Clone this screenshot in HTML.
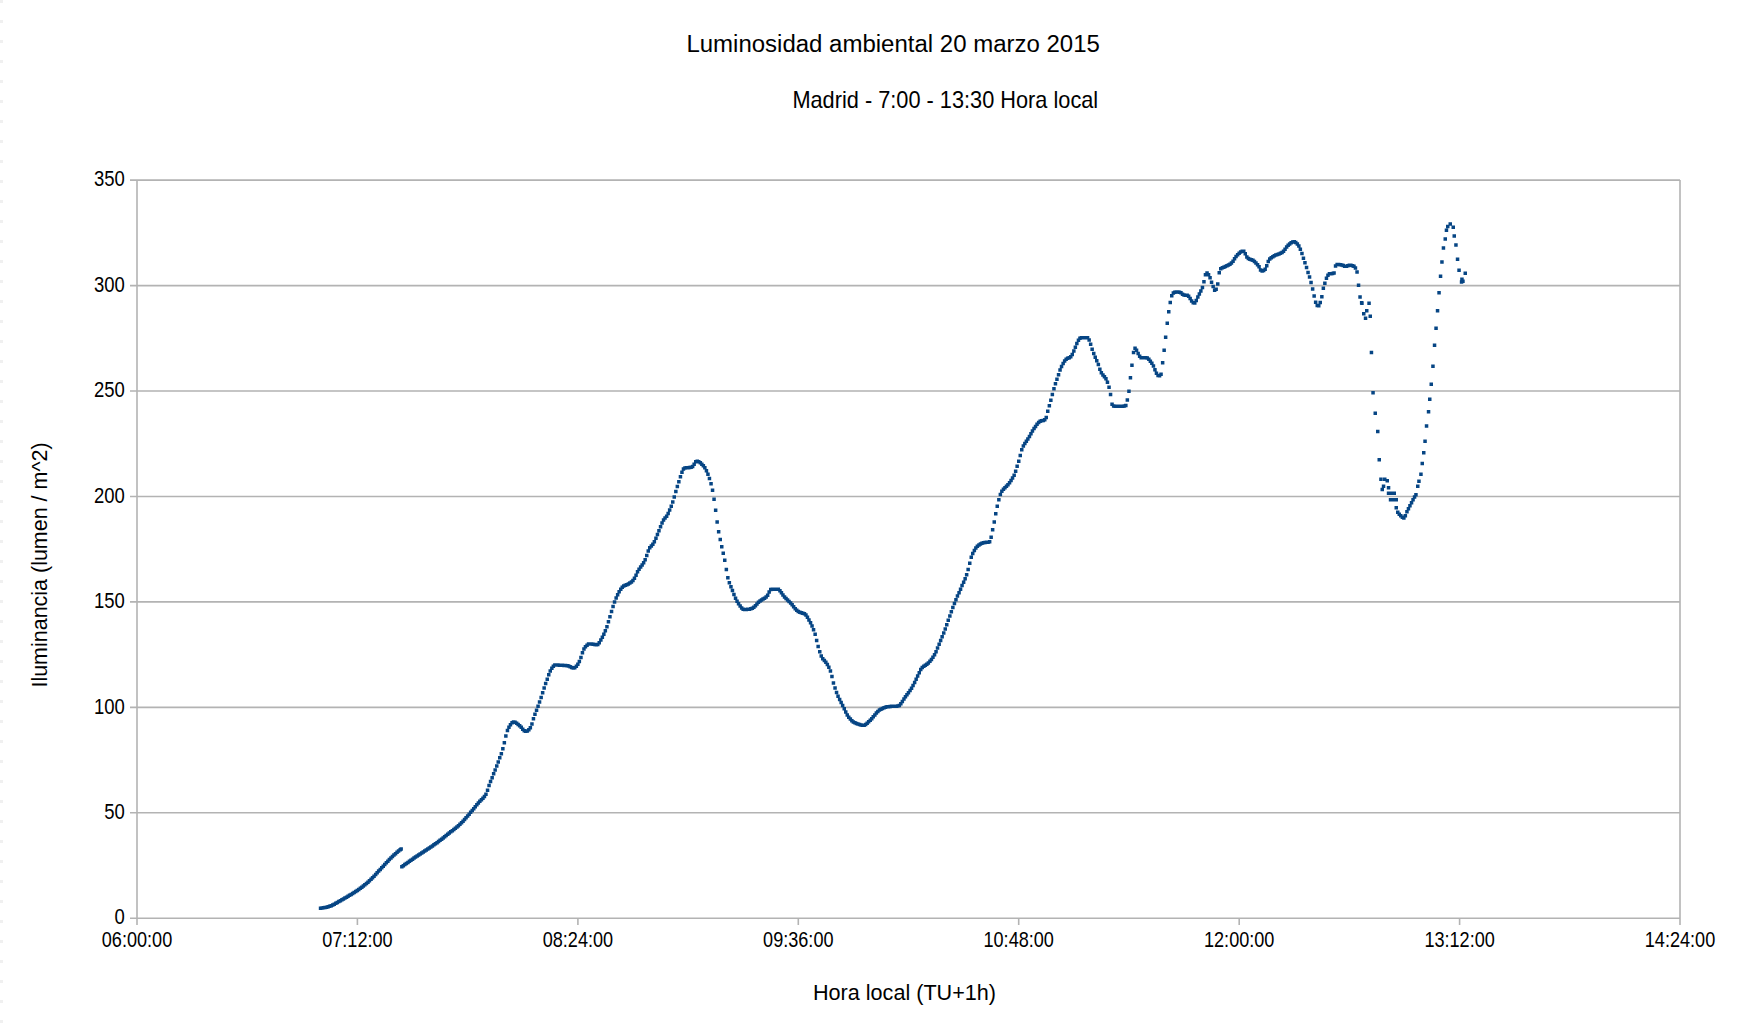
<!DOCTYPE html>
<html><head><meta charset="utf-8">
<style>
html,body{margin:0;padding:0;background:#fff;}
body{width:1748px;height:1024px;overflow:hidden;position:relative;}
svg{position:absolute;left:0;top:0;}
text{font-family:"Liberation Sans",sans-serif;fill:#000;}
</style></head><body>
<svg width="1748" height="1024" viewBox="0 0 1748 1024">
<path d="M1.5 0V1024" stroke="#f0f0f0" stroke-width="3" stroke-dasharray="3 17"/>
<g stroke="#b3b3b3" stroke-width="1.6" fill="none">
<path d="M130 918.3H1680M130 812.8H1680M130 707.4H1680M130 601.9H1680M130 496.5H1680M130 391.0H1680M130 285.6H1680M130 180.1H1680"/>
<path d="M137 180.1V925M1680 180.1V925M357.4 918.3V925M577.9 918.3V925M798.3 918.3V925M1018.7 918.3V925M1239.2 918.3V925M1459.6 918.3V925"/>
</g>
<text font-size="24.4" transform="translate(686.4 52.1) scale(0.984 1)">Luminosidad ambiental 20 marzo 2015</text>
<text font-size="23" transform="translate(792.4 107.6) scale(0.946 1)">Madrid - 7:00 - 13:30 Hora local</text>
<text font-size="22" transform="translate(813 1000.0) scale(0.982 1)">Hora local (TU+1h)</text>
<text font-size="22.5" transform="translate(47.2 442.4) rotate(-90) scale(0.955 1)" text-anchor="end">Iluminancia (lumen / m^2)</text>
<g font-size="21.4" text-anchor="end">
<text transform="translate(124.8 924.4) scale(0.865 1)">0</text>
<text transform="translate(124.8 818.9) scale(0.865 1)">50</text>
<text transform="translate(124.8 713.5) scale(0.865 1)">100</text>
<text transform="translate(124.8 608.0) scale(0.865 1)">150</text>
<text transform="translate(124.8 502.6) scale(0.865 1)">200</text>
<text transform="translate(124.8 397.1) scale(0.865 1)">250</text>
<text transform="translate(124.8 291.7) scale(0.865 1)">300</text>
<text transform="translate(124.8 186.2) scale(0.865 1)">350</text>
</g><g font-size="21.4" text-anchor="middle">
<text transform="translate(137.0 947.2) scale(0.846 1)">06:00:00</text>
<text transform="translate(357.4 947.2) scale(0.846 1)">07:12:00</text>
<text transform="translate(577.9 947.2) scale(0.846 1)">08:24:00</text>
<text transform="translate(798.3 947.2) scale(0.846 1)">09:36:00</text>
<text transform="translate(1018.7 947.2) scale(0.846 1)">10:48:00</text>
<text transform="translate(1239.2 947.2) scale(0.846 1)">12:00:00</text>
<text transform="translate(1459.6 947.2) scale(0.846 1)">13:12:00</text>
<text transform="translate(1680.0 947.2) scale(0.846 1)">14:24:00</text>
</g>
<path fill="#064584" d="M318.8 906.4h3.5v3.5h-3.5zM320.3 906.2h3.5v3.5h-3.5zM321.8 906.1h3.5v3.5h-3.5zM323.3 905.8h3.5v3.5h-3.5zM324.9 905.5h3.5v3.5h-3.5zM326.4 905.1h3.5v3.5h-3.5zM327.9 904.6h3.5v3.5h-3.5zM329.5 904.0h3.5v3.5h-3.5zM331.0 903.3h3.5v3.5h-3.5zM332.5 902.4h3.5v3.5h-3.5zM334.1 901.6h3.5v3.5h-3.5zM335.6 900.7h3.5v3.5h-3.5zM337.1 899.8h3.5v3.5h-3.5zM338.7 898.9h3.5v3.5h-3.5zM340.2 898.0h3.5v3.5h-3.5zM341.7 897.2h3.5v3.5h-3.5zM343.2 896.3h3.5v3.5h-3.5zM344.8 895.4h3.5v3.5h-3.5zM346.3 894.5h3.5v3.5h-3.5zM347.8 893.6h3.5v3.5h-3.5zM349.4 892.7h3.5v3.5h-3.5zM350.9 891.7h3.5v3.5h-3.5zM352.4 890.8h3.5v3.5h-3.5zM354.0 889.8h3.5v3.5h-3.5zM355.5 888.7h3.5v3.5h-3.5zM357.0 887.7h3.5v3.5h-3.5zM358.6 886.6h3.5v3.5h-3.5zM360.1 885.4h3.5v3.5h-3.5zM361.6 884.3h3.5v3.5h-3.5zM363.1 883.0h3.5v3.5h-3.5zM364.7 881.8h3.5v3.5h-3.5zM366.2 880.4h3.5v3.5h-3.5zM367.7 879.1h3.5v3.5h-3.5zM369.3 877.6h3.5v3.5h-3.5zM370.8 876.0h3.5v3.5h-3.5zM372.3 874.4h3.5v3.5h-3.5zM373.9 872.7h3.5v3.5h-3.5zM375.4 871.0h3.5v3.5h-3.5zM376.9 869.3h3.5v3.5h-3.5zM378.5 867.7h3.5v3.5h-3.5zM380.0 866.0h3.5v3.5h-3.5zM381.5 864.4h3.5v3.5h-3.5zM383.0 862.7h3.5v3.5h-3.5zM384.6 861.1h3.5v3.5h-3.5zM386.1 859.4h3.5v3.5h-3.5zM387.6 857.8h3.5v3.5h-3.5zM389.2 856.2h3.5v3.5h-3.5zM390.7 854.7h3.5v3.5h-3.5zM392.2 853.2h3.5v3.5h-3.5zM393.8 851.9h3.5v3.5h-3.5zM395.3 850.6h3.5v3.5h-3.5zM396.8 849.3h3.5v3.5h-3.5zM398.4 848.1h3.5v3.5h-3.5zM399.4 847.3h3.5v3.5h-3.5zM400.1 865.0h3.5v3.5h-3.5zM401.6 863.9h3.5v3.5h-3.5zM403.1 862.8h3.5v3.5h-3.5zM404.6 861.7h3.5v3.5h-3.5zM406.2 860.7h3.5v3.5h-3.5zM407.7 859.6h3.5v3.5h-3.5zM409.2 858.5h3.5v3.5h-3.5zM410.8 857.4h3.5v3.5h-3.5zM412.3 856.3h3.5v3.5h-3.5zM413.8 855.3h3.5v3.5h-3.5zM415.4 854.2h3.5v3.5h-3.5zM416.9 853.2h3.5v3.5h-3.5zM418.4 852.2h3.5v3.5h-3.5zM420.0 851.2h3.5v3.5h-3.5zM421.5 850.2h3.5v3.5h-3.5zM423.0 849.2h3.5v3.5h-3.5zM424.5 848.2h3.5v3.5h-3.5zM426.1 847.2h3.5v3.5h-3.5zM427.6 846.2h3.5v3.5h-3.5zM429.1 845.2h3.5v3.5h-3.5zM430.7 844.2h3.5v3.5h-3.5zM432.2 843.1h3.5v3.5h-3.5zM433.7 842.0h3.5v3.5h-3.5zM435.3 840.9h3.5v3.5h-3.5zM436.8 839.8h3.5v3.5h-3.5zM438.3 838.6h3.5v3.5h-3.5zM439.9 837.4h3.5v3.5h-3.5zM441.4 836.2h3.5v3.5h-3.5zM442.9 834.9h3.5v3.5h-3.5zM444.4 833.7h3.5v3.5h-3.5zM446.0 832.5h3.5v3.5h-3.5zM447.5 831.2h3.5v3.5h-3.5zM449.0 830.0h3.5v3.5h-3.5zM450.6 828.9h3.5v3.5h-3.5zM452.1 827.7h3.5v3.5h-3.5zM453.6 826.6h3.5v3.5h-3.5zM455.2 825.3h3.5v3.5h-3.5zM456.7 824.0h3.5v3.5h-3.5zM458.2 822.6h3.5v3.5h-3.5zM459.8 821.1h3.5v3.5h-3.5zM461.3 819.4h3.5v3.5h-3.5zM462.8 817.7h3.5v3.5h-3.5zM464.3 815.9h3.5v3.5h-3.5zM465.9 814.2h3.5v3.5h-3.5zM467.4 812.4h3.5v3.5h-3.5zM468.9 810.6h3.5v3.5h-3.5zM470.5 808.7h3.5v3.5h-3.5zM472.0 806.9h3.5v3.5h-3.5zM473.5 805.0h3.5v3.5h-3.5zM475.1 803.1h3.5v3.5h-3.5zM476.6 801.3h3.5v3.5h-3.5zM478.1 799.6h3.5v3.5h-3.5zM479.7 798.1h3.5v3.5h-3.5zM481.2 796.6h3.5v3.5h-3.5zM482.7 794.8h3.5v3.5h-3.5zM484.2 792.4h3.5v3.5h-3.5zM485.8 788.4h3.5v3.5h-3.5zM487.3 783.8h3.5v3.5h-3.5zM488.8 779.7h3.5v3.5h-3.5zM490.4 775.9h3.5v3.5h-3.5zM491.9 772.1h3.5v3.5h-3.5zM493.4 768.2h3.5v3.5h-3.5zM495.0 764.2h3.5v3.5h-3.5zM496.5 760.2h3.5v3.5h-3.5zM498.0 756.1h3.5v3.5h-3.5zM499.6 751.9h3.5v3.5h-3.5zM501.1 747.1h3.5v3.5h-3.5zM502.6 740.9h3.5v3.5h-3.5zM504.1 734.2h3.5v3.5h-3.5zM505.7 728.8h3.5v3.5h-3.5zM507.2 725.6h3.5v3.5h-3.5zM508.7 723.0h3.5v3.5h-3.5zM510.3 721.0h3.5v3.5h-3.5zM511.8 720.3h3.5v3.5h-3.5zM513.3 720.6h3.5v3.5h-3.5zM514.9 721.6h3.5v3.5h-3.5zM516.4 722.8h3.5v3.5h-3.5zM517.9 724.0h3.5v3.5h-3.5zM519.5 725.6h3.5v3.5h-3.5zM521.0 727.4h3.5v3.5h-3.5zM522.5 728.9h3.5v3.5h-3.5zM524.0 729.6h3.5v3.5h-3.5zM525.6 729.2h3.5v3.5h-3.5zM527.1 727.9h3.5v3.5h-3.5zM528.6 726.0h3.5v3.5h-3.5zM530.2 722.2h3.5v3.5h-3.5zM531.7 717.1h3.5v3.5h-3.5zM533.2 712.5h3.5v3.5h-3.5zM534.8 708.4h3.5v3.5h-3.5zM536.3 704.5h3.5v3.5h-3.5zM537.8 700.3h3.5v3.5h-3.5zM539.4 695.7h3.5v3.5h-3.5zM540.9 690.9h3.5v3.5h-3.5zM542.4 686.2h3.5v3.5h-3.5zM543.9 681.7h3.5v3.5h-3.5zM545.5 677.4h3.5v3.5h-3.5zM547.0 673.0h3.5v3.5h-3.5zM548.5 669.2h3.5v3.5h-3.5zM550.1 666.4h3.5v3.5h-3.5zM551.6 664.4h3.5v3.5h-3.5zM553.1 663.3h3.5v3.5h-3.5zM554.7 663.3h3.5v3.5h-3.5zM556.2 663.3h3.5v3.5h-3.5zM557.7 663.4h3.5v3.5h-3.5zM559.3 663.5h3.5v3.5h-3.5zM560.8 663.6h3.5v3.5h-3.5zM562.3 663.7h3.5v3.5h-3.5zM563.8 663.8h3.5v3.5h-3.5zM565.4 664.0h3.5v3.5h-3.5zM566.9 664.3h3.5v3.5h-3.5zM568.4 665.0h3.5v3.5h-3.5zM570.0 665.8h3.5v3.5h-3.5zM571.5 666.2h3.5v3.5h-3.5zM573.0 665.9h3.5v3.5h-3.5zM574.6 664.5h3.5v3.5h-3.5zM576.1 662.4h3.5v3.5h-3.5zM577.6 659.8h3.5v3.5h-3.5zM579.2 655.7h3.5v3.5h-3.5zM580.7 651.1h3.5v3.5h-3.5zM582.2 647.2h3.5v3.5h-3.5zM583.7 645.1h3.5v3.5h-3.5zM585.3 643.4h3.5v3.5h-3.5zM586.8 642.3h3.5v3.5h-3.5zM588.3 642.2h3.5v3.5h-3.5zM589.9 642.3h3.5v3.5h-3.5zM591.4 642.5h3.5v3.5h-3.5zM592.9 642.8h3.5v3.5h-3.5zM594.5 642.9h3.5v3.5h-3.5zM596.0 642.8h3.5v3.5h-3.5zM597.5 641.0h3.5v3.5h-3.5zM599.1 638.2h3.5v3.5h-3.5zM600.6 635.4h3.5v3.5h-3.5zM602.1 632.4h3.5v3.5h-3.5zM603.6 628.9h3.5v3.5h-3.5zM605.2 624.9h3.5v3.5h-3.5zM606.7 620.0h3.5v3.5h-3.5zM608.2 614.9h3.5v3.5h-3.5zM609.8 609.8h3.5v3.5h-3.5zM611.3 604.8h3.5v3.5h-3.5zM612.8 600.3h3.5v3.5h-3.5zM614.4 596.2h3.5v3.5h-3.5zM615.9 592.9h3.5v3.5h-3.5zM617.4 589.9h3.5v3.5h-3.5zM619.0 587.4h3.5v3.5h-3.5zM620.5 585.4h3.5v3.5h-3.5zM622.0 584.3h3.5v3.5h-3.5zM623.5 583.6h3.5v3.5h-3.5zM625.1 583.0h3.5v3.5h-3.5zM626.6 582.2h3.5v3.5h-3.5zM628.1 581.2h3.5v3.5h-3.5zM629.7 580.2h3.5v3.5h-3.5zM631.2 578.8h3.5v3.5h-3.5zM632.7 576.6h3.5v3.5h-3.5zM634.3 573.4h3.5v3.5h-3.5zM635.8 570.1h3.5v3.5h-3.5zM637.3 567.5h3.5v3.5h-3.5zM638.9 565.3h3.5v3.5h-3.5zM640.4 563.3h3.5v3.5h-3.5zM641.9 561.0h3.5v3.5h-3.5zM643.4 558.1h3.5v3.5h-3.5zM645.0 553.7h3.5v3.5h-3.5zM646.5 549.2h3.5v3.5h-3.5zM648.0 546.1h3.5v3.5h-3.5zM649.6 544.3h3.5v3.5h-3.5zM651.1 542.6h3.5v3.5h-3.5zM652.6 540.0h3.5v3.5h-3.5zM654.2 536.6h3.5v3.5h-3.5zM655.7 532.7h3.5v3.5h-3.5zM657.2 529.0h3.5v3.5h-3.5zM658.8 525.1h3.5v3.5h-3.5zM660.3 521.3h3.5v3.5h-3.5zM661.8 518.3h3.5v3.5h-3.5zM663.3 516.3h3.5v3.5h-3.5zM664.9 514.4h3.5v3.5h-3.5zM666.4 511.7h3.5v3.5h-3.5zM667.9 508.3h3.5v3.5h-3.5zM669.5 504.5h3.5v3.5h-3.5zM671.0 500.3h3.5v3.5h-3.5zM672.5 495.2h3.5v3.5h-3.5zM674.1 489.8h3.5v3.5h-3.5zM675.6 484.7h3.5v3.5h-3.5zM677.1 480.0h3.5v3.5h-3.5zM678.7 475.0h3.5v3.5h-3.5zM680.2 470.5h3.5v3.5h-3.5zM681.7 467.3h3.5v3.5h-3.5zM683.2 466.3h3.5v3.5h-3.5zM684.8 466.0h3.5v3.5h-3.5zM686.3 465.9h3.5v3.5h-3.5zM687.8 465.8h3.5v3.5h-3.5zM689.4 465.6h3.5v3.5h-3.5zM690.9 464.7h3.5v3.5h-3.5zM692.4 462.4h3.5v3.5h-3.5zM694.0 460.1h3.5v3.5h-3.5zM695.5 459.4h3.5v3.5h-3.5zM697.0 459.9h3.5v3.5h-3.5zM698.6 460.9h3.5v3.5h-3.5zM700.1 462.4h3.5v3.5h-3.5zM701.6 464.0h3.5v3.5h-3.5zM703.1 466.0h3.5v3.5h-3.5zM704.7 469.0h3.5v3.5h-3.5zM706.2 472.6h3.5v3.5h-3.5zM707.7 476.8h3.5v3.5h-3.5zM709.3 482.1h3.5v3.5h-3.5zM710.8 488.6h3.5v3.5h-3.5zM712.3 497.5h3.5v3.5h-3.5zM713.9 508.4h3.5v3.5h-3.5zM715.4 520.2h3.5v3.5h-3.5zM716.9 530.0h3.5v3.5h-3.5zM718.5 537.7h3.5v3.5h-3.5zM720.0 544.9h3.5v3.5h-3.5zM721.5 551.6h3.5v3.5h-3.5zM723.0 558.5h3.5v3.5h-3.5zM724.6 567.7h3.5v3.5h-3.5zM726.1 576.0h3.5v3.5h-3.5zM727.6 581.0h3.5v3.5h-3.5zM729.2 585.0h3.5v3.5h-3.5zM730.7 588.8h3.5v3.5h-3.5zM732.2 592.8h3.5v3.5h-3.5zM733.8 596.5h3.5v3.5h-3.5zM735.3 599.5h3.5v3.5h-3.5zM736.8 601.9h3.5v3.5h-3.5zM738.4 604.2h3.5v3.5h-3.5zM739.9 606.2h3.5v3.5h-3.5zM741.4 607.5h3.5v3.5h-3.5zM742.9 607.8h3.5v3.5h-3.5zM744.5 607.8h3.5v3.5h-3.5zM746.0 607.6h3.5v3.5h-3.5zM747.5 607.4h3.5v3.5h-3.5zM749.1 607.1h3.5v3.5h-3.5zM750.6 606.6h3.5v3.5h-3.5zM752.1 605.5h3.5v3.5h-3.5zM753.7 604.0h3.5v3.5h-3.5zM755.2 602.3h3.5v3.5h-3.5zM756.7 600.6h3.5v3.5h-3.5zM758.3 599.2h3.5v3.5h-3.5zM759.8 598.2h3.5v3.5h-3.5zM761.3 597.3h3.5v3.5h-3.5zM762.8 596.4h3.5v3.5h-3.5zM764.4 595.3h3.5v3.5h-3.5zM765.9 593.4h3.5v3.5h-3.5zM767.4 590.3h3.5v3.5h-3.5zM769.0 587.8h3.5v3.5h-3.5zM770.5 587.4h3.5v3.5h-3.5zM772.0 587.4h3.5v3.5h-3.5zM773.6 587.4h3.5v3.5h-3.5zM775.1 587.4h3.5v3.5h-3.5zM776.6 587.6h3.5v3.5h-3.5zM778.2 588.9h3.5v3.5h-3.5zM779.7 590.9h3.5v3.5h-3.5zM781.2 593.2h3.5v3.5h-3.5zM782.8 595.2h3.5v3.5h-3.5zM784.3 596.8h3.5v3.5h-3.5zM785.8 598.3h3.5v3.5h-3.5zM787.3 599.8h3.5v3.5h-3.5zM788.9 601.3h3.5v3.5h-3.5zM790.4 603.0h3.5v3.5h-3.5zM791.9 604.9h3.5v3.5h-3.5zM793.5 606.9h3.5v3.5h-3.5zM795.0 608.6h3.5v3.5h-3.5zM796.5 609.8h3.5v3.5h-3.5zM798.1 610.5h3.5v3.5h-3.5zM799.6 610.9h3.5v3.5h-3.5zM801.1 611.4h3.5v3.5h-3.5zM802.7 612.0h3.5v3.5h-3.5zM804.2 613.3h3.5v3.5h-3.5zM805.7 615.5h3.5v3.5h-3.5zM807.2 618.3h3.5v3.5h-3.5zM808.8 621.1h3.5v3.5h-3.5zM810.3 624.3h3.5v3.5h-3.5zM811.8 628.0h3.5v3.5h-3.5zM813.4 632.4h3.5v3.5h-3.5zM814.9 638.7h3.5v3.5h-3.5zM816.4 644.8h3.5v3.5h-3.5zM818.0 649.9h3.5v3.5h-3.5zM819.5 654.3h3.5v3.5h-3.5zM821.0 657.1h3.5v3.5h-3.5zM822.6 658.8h3.5v3.5h-3.5zM824.1 660.5h3.5v3.5h-3.5zM825.6 662.8h3.5v3.5h-3.5zM827.1 665.6h3.5v3.5h-3.5zM828.7 669.2h3.5v3.5h-3.5zM830.2 674.8h3.5v3.5h-3.5zM831.7 681.3h3.5v3.5h-3.5zM833.3 686.3h3.5v3.5h-3.5zM834.8 690.7h3.5v3.5h-3.5zM836.3 694.5h3.5v3.5h-3.5zM837.9 697.8h3.5v3.5h-3.5zM839.4 700.8h3.5v3.5h-3.5zM840.9 703.7h3.5v3.5h-3.5zM842.5 706.9h3.5v3.5h-3.5zM844.0 710.3h3.5v3.5h-3.5zM845.5 713.2h3.5v3.5h-3.5zM847.0 715.4h3.5v3.5h-3.5zM848.6 717.3h3.5v3.5h-3.5zM850.1 719.0h3.5v3.5h-3.5zM851.6 720.2h3.5v3.5h-3.5zM853.2 721.1h3.5v3.5h-3.5zM854.7 721.7h3.5v3.5h-3.5zM856.2 722.3h3.5v3.5h-3.5zM857.8 722.8h3.5v3.5h-3.5zM859.3 723.2h3.5v3.5h-3.5zM860.8 723.4h3.5v3.5h-3.5zM862.4 723.4h3.5v3.5h-3.5zM863.9 722.7h3.5v3.5h-3.5zM865.4 721.4h3.5v3.5h-3.5zM866.9 720.0h3.5v3.5h-3.5zM868.5 718.6h3.5v3.5h-3.5zM870.0 717.0h3.5v3.5h-3.5zM871.5 715.1h3.5v3.5h-3.5zM873.1 713.2h3.5v3.5h-3.5zM874.6 711.3h3.5v3.5h-3.5zM876.1 709.7h3.5v3.5h-3.5zM877.7 708.3h3.5v3.5h-3.5zM879.2 707.4h3.5v3.5h-3.5zM880.7 706.7h3.5v3.5h-3.5zM882.3 706.1h3.5v3.5h-3.5zM883.8 705.5h3.5v3.5h-3.5zM885.3 705.1h3.5v3.5h-3.5zM886.8 704.9h3.5v3.5h-3.5zM888.4 704.7h3.5v3.5h-3.5zM889.9 704.6h3.5v3.5h-3.5zM891.4 704.6h3.5v3.5h-3.5zM893.0 704.5h3.5v3.5h-3.5zM894.5 704.4h3.5v3.5h-3.5zM896.0 704.3h3.5v3.5h-3.5zM897.6 703.8h3.5v3.5h-3.5zM899.1 702.1h3.5v3.5h-3.5zM900.6 699.7h3.5v3.5h-3.5zM902.2 697.2h3.5v3.5h-3.5zM903.7 694.9h3.5v3.5h-3.5zM905.2 692.9h3.5v3.5h-3.5zM906.7 690.9h3.5v3.5h-3.5zM908.3 688.8h3.5v3.5h-3.5zM909.8 686.5h3.5v3.5h-3.5zM911.3 683.8h3.5v3.5h-3.5zM912.9 680.7h3.5v3.5h-3.5zM914.4 677.4h3.5v3.5h-3.5zM915.9 674.3h3.5v3.5h-3.5zM917.5 670.9h3.5v3.5h-3.5zM919.0 667.8h3.5v3.5h-3.5zM920.5 665.8h3.5v3.5h-3.5zM922.1 664.5h3.5v3.5h-3.5zM923.6 663.5h3.5v3.5h-3.5zM925.1 662.4h3.5v3.5h-3.5zM926.6 661.2h3.5v3.5h-3.5zM928.2 659.6h3.5v3.5h-3.5zM929.7 657.7h3.5v3.5h-3.5zM931.2 655.6h3.5v3.5h-3.5zM932.8 653.1h3.5v3.5h-3.5zM934.3 649.9h3.5v3.5h-3.5zM935.8 646.2h3.5v3.5h-3.5zM937.4 642.4h3.5v3.5h-3.5zM938.9 638.8h3.5v3.5h-3.5zM940.4 635.1h3.5v3.5h-3.5zM942.0 631.2h3.5v3.5h-3.5zM943.5 627.2h3.5v3.5h-3.5zM945.0 623.0h3.5v3.5h-3.5zM946.5 618.6h3.5v3.5h-3.5zM948.1 614.3h3.5v3.5h-3.5zM949.6 610.0h3.5v3.5h-3.5zM951.1 605.8h3.5v3.5h-3.5zM952.7 601.7h3.5v3.5h-3.5zM954.2 597.9h3.5v3.5h-3.5zM955.7 594.3h3.5v3.5h-3.5zM957.3 590.9h3.5v3.5h-3.5zM958.8 587.4h3.5v3.5h-3.5zM960.3 583.8h3.5v3.5h-3.5zM961.9 580.4h3.5v3.5h-3.5zM963.4 576.9h3.5v3.5h-3.5zM964.9 572.9h3.5v3.5h-3.5zM966.4 567.8h3.5v3.5h-3.5zM968.0 561.4h3.5v3.5h-3.5zM969.5 555.6h3.5v3.5h-3.5zM971.0 551.7h3.5v3.5h-3.5zM972.6 548.7h3.5v3.5h-3.5zM974.1 546.2h3.5v3.5h-3.5zM975.6 544.4h3.5v3.5h-3.5zM977.2 543.2h3.5v3.5h-3.5zM978.7 542.2h3.5v3.5h-3.5zM980.2 541.5h3.5v3.5h-3.5zM981.8 541.0h3.5v3.5h-3.5zM983.3 540.8h3.5v3.5h-3.5zM984.8 540.6h3.5v3.5h-3.5zM986.3 540.4h3.5v3.5h-3.5zM987.9 539.9h3.5v3.5h-3.5zM989.4 535.5h3.5v3.5h-3.5zM990.9 527.9h3.5v3.5h-3.5zM992.5 520.3h3.5v3.5h-3.5zM994.0 511.9h3.5v3.5h-3.5zM995.5 504.4h3.5v3.5h-3.5zM997.1 498.0h3.5v3.5h-3.5zM998.6 492.7h3.5v3.5h-3.5zM1000.1 489.5h3.5v3.5h-3.5zM1001.7 487.5h3.5v3.5h-3.5zM1003.2 485.9h3.5v3.5h-3.5zM1004.7 484.5h3.5v3.5h-3.5zM1006.2 482.9h3.5v3.5h-3.5zM1007.8 480.9h3.5v3.5h-3.5zM1009.3 478.8h3.5v3.5h-3.5zM1010.8 476.3h3.5v3.5h-3.5zM1012.4 473.4h3.5v3.5h-3.5zM1013.9 469.4h3.5v3.5h-3.5zM1015.4 464.6h3.5v3.5h-3.5zM1017.0 459.5h3.5v3.5h-3.5zM1018.5 453.7h3.5v3.5h-3.5zM1020.0 448.1h3.5v3.5h-3.5zM1021.6 444.3h3.5v3.5h-3.5zM1023.1 441.7h3.5v3.5h-3.5zM1024.6 439.5h3.5v3.5h-3.5zM1026.1 437.3h3.5v3.5h-3.5zM1027.7 434.7h3.5v3.5h-3.5zM1029.2 432.0h3.5v3.5h-3.5zM1030.7 429.3h3.5v3.5h-3.5zM1032.3 426.8h3.5v3.5h-3.5zM1033.8 424.7h3.5v3.5h-3.5zM1035.3 422.5h3.5v3.5h-3.5zM1036.9 420.8h3.5v3.5h-3.5zM1038.4 419.6h3.5v3.5h-3.5zM1039.9 419.1h3.5v3.5h-3.5zM1041.5 418.7h3.5v3.5h-3.5zM1043.0 418.1h3.5v3.5h-3.5zM1044.5 415.7h3.5v3.5h-3.5zM1046.0 409.6h3.5v3.5h-3.5zM1047.6 404.0h3.5v3.5h-3.5zM1049.1 398.4h3.5v3.5h-3.5zM1050.6 392.8h3.5v3.5h-3.5zM1052.2 387.0h3.5v3.5h-3.5zM1053.7 382.0h3.5v3.5h-3.5zM1055.2 377.6h3.5v3.5h-3.5zM1056.8 372.9h3.5v3.5h-3.5zM1058.3 368.2h3.5v3.5h-3.5zM1059.8 364.7h3.5v3.5h-3.5zM1061.4 361.7h3.5v3.5h-3.5zM1062.9 359.2h3.5v3.5h-3.5zM1064.4 357.4h3.5v3.5h-3.5zM1065.9 356.5h3.5v3.5h-3.5zM1067.5 355.9h3.5v3.5h-3.5zM1069.0 354.9h3.5v3.5h-3.5zM1070.5 352.7h3.5v3.5h-3.5zM1072.1 349.3h3.5v3.5h-3.5zM1073.6 345.5h3.5v3.5h-3.5zM1075.1 341.7h3.5v3.5h-3.5zM1076.7 338.6h3.5v3.5h-3.5zM1078.2 336.5h3.5v3.5h-3.5zM1079.7 336.1h3.5v3.5h-3.5zM1081.3 336.1h3.5v3.5h-3.5zM1082.8 336.1h3.5v3.5h-3.5zM1084.3 336.1h3.5v3.5h-3.5zM1085.8 336.1h3.5v3.5h-3.5zM1087.4 338.3h3.5v3.5h-3.5zM1088.9 342.5h3.5v3.5h-3.5zM1090.4 347.4h3.5v3.5h-3.5zM1092.0 351.8h3.5v3.5h-3.5zM1093.5 355.4h3.5v3.5h-3.5zM1095.0 358.9h3.5v3.5h-3.5zM1096.6 362.7h3.5v3.5h-3.5zM1098.1 367.5h3.5v3.5h-3.5zM1099.6 371.1h3.5v3.5h-3.5zM1101.2 373.2h3.5v3.5h-3.5zM1102.7 374.9h3.5v3.5h-3.5zM1104.2 377.1h3.5v3.5h-3.5zM1105.7 380.5h3.5v3.5h-3.5zM1107.3 385.6h3.5v3.5h-3.5zM1108.8 392.7h3.5v3.5h-3.5zM1110.3 402.4h3.5v3.5h-3.5zM1111.9 404.3h3.5v3.5h-3.5zM1113.4 404.5h3.5v3.5h-3.5zM1114.9 404.6h3.5v3.5h-3.5zM1116.5 404.6h3.5v3.5h-3.5zM1118.0 404.6h3.5v3.5h-3.5zM1119.5 404.6h3.5v3.5h-3.5zM1121.1 404.5h3.5v3.5h-3.5zM1122.6 404.3h3.5v3.5h-3.5zM1124.1 403.8h3.5v3.5h-3.5zM1125.6 398.2h3.5v3.5h-3.5zM1127.2 389.6h3.5v3.5h-3.5zM1128.7 376.1h3.5v3.5h-3.5zM1130.2 363.4h3.5v3.5h-3.5zM1131.8 350.8h3.5v3.5h-3.5zM1133.3 346.6h3.5v3.5h-3.5zM1134.8 348.5h3.5v3.5h-3.5zM1136.4 351.7h3.5v3.5h-3.5zM1137.9 354.6h3.5v3.5h-3.5zM1139.4 355.9h3.5v3.5h-3.5zM1141.0 355.9h3.5v3.5h-3.5zM1142.5 355.9h3.5v3.5h-3.5zM1144.0 355.9h3.5v3.5h-3.5zM1145.5 356.3h3.5v3.5h-3.5zM1147.1 357.6h3.5v3.5h-3.5zM1148.6 359.4h3.5v3.5h-3.5zM1150.1 361.4h3.5v3.5h-3.5zM1151.7 364.2h3.5v3.5h-3.5zM1153.2 367.9h3.5v3.5h-3.5zM1154.7 371.5h3.5v3.5h-3.5zM1156.3 373.7h3.5v3.5h-3.5zM1157.8 373.9h3.5v3.5h-3.5zM1159.3 372.4h3.5v3.5h-3.5zM1160.9 361.0h3.5v3.5h-3.5zM1162.4 348.6h3.5v3.5h-3.5zM1163.9 335.4h3.5v3.5h-3.5zM1165.5 321.5h3.5v3.5h-3.5zM1167.0 310.0h3.5v3.5h-3.5zM1168.5 300.7h3.5v3.5h-3.5zM1170.0 293.9h3.5v3.5h-3.5zM1171.6 291.3h3.5v3.5h-3.5zM1173.1 290.6h3.5v3.5h-3.5zM1174.6 290.3h3.5v3.5h-3.5zM1176.2 290.3h3.5v3.5h-3.5zM1177.7 290.5h3.5v3.5h-3.5zM1179.2 291.0h3.5v3.5h-3.5zM1180.8 292.6h3.5v3.5h-3.5zM1182.3 293.3h3.5v3.5h-3.5zM1183.8 293.4h3.5v3.5h-3.5zM1185.4 293.6h3.5v3.5h-3.5zM1186.9 294.6h3.5v3.5h-3.5zM1188.4 296.8h3.5v3.5h-3.5zM1189.9 299.2h3.5v3.5h-3.5zM1191.5 301.1h3.5v3.5h-3.5zM1193.0 301.2h3.5v3.5h-3.5zM1194.5 298.7h3.5v3.5h-3.5zM1196.1 295.2h3.5v3.5h-3.5zM1197.6 292.3h3.5v3.5h-3.5zM1199.1 289.2h3.5v3.5h-3.5zM1200.7 285.7h3.5v3.5h-3.5zM1202.2 280.0h3.5v3.5h-3.5zM1203.7 272.9h3.5v3.5h-3.5zM1205.3 271.3h3.5v3.5h-3.5zM1206.8 272.9h3.5v3.5h-3.5zM1208.3 275.9h3.5v3.5h-3.5zM1209.8 280.4h3.5v3.5h-3.5zM1211.4 284.8h3.5v3.5h-3.5zM1212.9 288.4h3.5v3.5h-3.5zM1214.4 287.6h3.5v3.5h-3.5zM1216.0 282.3h3.5v3.5h-3.5zM1217.5 271.0h3.5v3.5h-3.5zM1219.0 267.1h3.5v3.5h-3.5zM1220.6 266.0h3.5v3.5h-3.5zM1222.1 265.4h3.5v3.5h-3.5zM1223.6 264.8h3.5v3.5h-3.5zM1225.2 264.1h3.5v3.5h-3.5zM1226.7 263.3h3.5v3.5h-3.5zM1228.2 262.4h3.5v3.5h-3.5zM1229.7 261.3h3.5v3.5h-3.5zM1231.3 259.4h3.5v3.5h-3.5zM1232.8 257.1h3.5v3.5h-3.5zM1234.3 254.8h3.5v3.5h-3.5zM1235.9 253.1h3.5v3.5h-3.5zM1237.4 251.6h3.5v3.5h-3.5zM1238.9 250.2h3.5v3.5h-3.5zM1240.5 249.4h3.5v3.5h-3.5zM1242.0 249.6h3.5v3.5h-3.5zM1243.5 252.1h3.5v3.5h-3.5zM1245.1 255.2h3.5v3.5h-3.5zM1246.6 256.8h3.5v3.5h-3.5zM1248.1 257.4h3.5v3.5h-3.5zM1249.6 257.9h3.5v3.5h-3.5zM1251.2 258.6h3.5v3.5h-3.5zM1252.7 259.8h3.5v3.5h-3.5zM1254.2 261.2h3.5v3.5h-3.5zM1255.8 263.0h3.5v3.5h-3.5zM1257.3 265.1h3.5v3.5h-3.5zM1258.8 268.2h3.5v3.5h-3.5zM1260.4 269.2h3.5v3.5h-3.5zM1261.9 268.7h3.5v3.5h-3.5zM1263.4 267.5h3.5v3.5h-3.5zM1265.0 263.9h3.5v3.5h-3.5zM1266.5 259.7h3.5v3.5h-3.5zM1268.0 257.2h3.5v3.5h-3.5zM1269.5 255.9h3.5v3.5h-3.5zM1271.1 254.9h3.5v3.5h-3.5zM1272.6 254.1h3.5v3.5h-3.5zM1274.1 253.3h3.5v3.5h-3.5zM1275.7 252.7h3.5v3.5h-3.5zM1277.2 252.2h3.5v3.5h-3.5zM1278.7 251.6h3.5v3.5h-3.5zM1280.3 250.8h3.5v3.5h-3.5zM1281.8 249.4h3.5v3.5h-3.5zM1283.3 247.4h3.5v3.5h-3.5zM1284.9 245.3h3.5v3.5h-3.5zM1286.4 243.6h3.5v3.5h-3.5zM1287.9 242.3h3.5v3.5h-3.5zM1289.4 241.0h3.5v3.5h-3.5zM1291.0 240.2h3.5v3.5h-3.5zM1292.5 240.0h3.5v3.5h-3.5zM1294.0 240.8h3.5v3.5h-3.5zM1295.6 242.3h3.5v3.5h-3.5zM1297.1 244.2h3.5v3.5h-3.5zM1298.6 247.5h3.5v3.5h-3.5zM1300.2 251.7h3.5v3.5h-3.5zM1301.7 256.5h3.5v3.5h-3.5zM1303.2 260.9h3.5v3.5h-3.5zM1304.8 265.8h3.5v3.5h-3.5zM1306.3 270.8h3.5v3.5h-3.5zM1307.8 275.3h3.5v3.5h-3.5zM1309.3 280.7h3.5v3.5h-3.5zM1310.9 287.3h3.5v3.5h-3.5zM1312.4 294.3h3.5v3.5h-3.5zM1313.9 300.5h3.5v3.5h-3.5zM1315.5 303.7h3.5v3.5h-3.5zM1317.0 304.0h3.5v3.5h-3.5zM1318.5 300.7h3.5v3.5h-3.5zM1320.1 295.1h3.5v3.5h-3.5zM1321.6 286.4h3.5v3.5h-3.5zM1323.1 281.4h3.5v3.5h-3.5zM1324.7 276.6h3.5v3.5h-3.5zM1326.2 273.5h3.5v3.5h-3.5zM1327.7 272.1h3.5v3.5h-3.5zM1329.2 271.9h3.5v3.5h-3.5zM1330.8 271.8h3.5v3.5h-3.5zM1332.3 271.2h3.5v3.5h-3.5zM1333.8 264.3h3.5v3.5h-3.5zM1335.4 262.8h3.5v3.5h-3.5zM1336.9 262.8h3.5v3.5h-3.5zM1338.4 263.0h3.5v3.5h-3.5zM1340.0 263.3h3.5v3.5h-3.5zM1341.5 263.7h3.5v3.5h-3.5zM1343.0 264.4h3.5v3.5h-3.5zM1344.6 264.5h3.5v3.5h-3.5zM1346.1 264.0h3.5v3.5h-3.5zM1347.6 263.5h3.5v3.5h-3.5zM1349.1 263.4h3.5v3.5h-3.5zM1350.7 263.9h3.5v3.5h-3.5zM1352.2 264.6h3.5v3.5h-3.5zM1353.7 266.3h3.5v3.5h-3.5zM1355.3 270.2h3.5v3.5h-3.5zM1356.8 283.5h3.5v3.5h-3.5zM1358.3 295.2h3.5v3.5h-3.5zM1359.9 300.9h3.5v3.5h-3.5zM1360.2 301.4h3.5v3.5h-3.5zM1367.3 301.4h3.5v3.5h-3.5zM1365.0 309.1h3.5v3.5h-3.5zM1362.0 312.0h3.5v3.5h-3.5zM1363.8 316.6h3.5v3.5h-3.5zM1368.5 314.4h3.5v3.5h-3.5zM1369.7 350.8h3.5v3.5h-3.5zM1371.3 391.1h3.5v3.5h-3.5zM1373.5 411.6h3.5v3.5h-3.5zM1376.0 429.8h3.5v3.5h-3.5zM1377.5 458.1h3.5v3.5h-3.5zM1379.2 477.6h3.5v3.5h-3.5zM1383.0 477.6h3.5v3.5h-3.5zM1385.5 478.9h3.5v3.5h-3.5zM1381.8 484.6h3.5v3.5h-3.5zM1380.5 487.8h3.5v3.5h-3.5zM1386.8 485.9h3.5v3.5h-3.5zM1386.8 491.6h3.5v3.5h-3.5zM1389.8 491.6h3.5v3.5h-3.5zM1392.5 491.6h3.5v3.5h-3.5zM1388.8 497.9h3.5v3.5h-3.5zM1391.5 497.9h3.5v3.5h-3.5zM1394.5 497.9h3.5v3.5h-3.5zM1394.5 506.1h3.5v3.5h-3.5zM1396.0 510.6h3.5v3.5h-3.5zM1397.5 512.6h3.5v3.5h-3.5zM1399.0 513.9h3.5v3.5h-3.5zM1400.6 515.5h3.5v3.5h-3.5zM1402.1 516.3h3.5v3.5h-3.5zM1403.6 514.0h3.5v3.5h-3.5zM1405.2 510.1h3.5v3.5h-3.5zM1406.7 507.0h3.5v3.5h-3.5zM1408.2 504.0h3.5v3.5h-3.5zM1409.8 501.0h3.5v3.5h-3.5zM1411.3 498.1h3.5v3.5h-3.5zM1412.8 495.3h3.5v3.5h-3.5zM1414.2 492.9h3.5v3.5h-3.5zM1416.0 484.6h3.5v3.5h-3.5zM1417.2 479.4h3.5v3.5h-3.5zM1419.2 472.6h3.5v3.5h-3.5zM1420.5 461.8h3.5v3.5h-3.5zM1422.0 450.9h3.5v3.5h-3.5zM1423.3 439.6h3.5v3.5h-3.5zM1424.8 424.2h3.5v3.5h-3.5zM1426.8 409.9h3.5v3.5h-3.5zM1428.0 397.4h3.5v3.5h-3.5zM1429.5 382.4h3.5v3.5h-3.5zM1431.2 364.6h3.5v3.5h-3.5zM1432.8 343.6h3.5v3.5h-3.5zM1434.3 326.6h3.5v3.5h-3.5zM1435.8 309.1h3.5v3.5h-3.5zM1437.3 290.9h3.5v3.5h-3.5zM1438.8 274.4h3.5v3.5h-3.5zM1440.2 260.2h3.5v3.5h-3.5zM1441.7 246.2h3.5v3.5h-3.5zM1443.5 237.3h3.5v3.5h-3.5zM1444.7 228.6h3.5v3.5h-3.5zM1446.0 224.7h3.5v3.5h-3.5zM1448.5 222.2h3.5v3.5h-3.5zM1451.5 225.6h3.5v3.5h-3.5zM1452.5 234.3h3.5v3.5h-3.5zM1454.2 243.2h3.5v3.5h-3.5zM1455.8 257.6h3.5v3.5h-3.5zM1457.3 268.6h3.5v3.5h-3.5zM1460.2 277.4h3.5v3.5h-3.5zM1461.2 279.4h3.5v3.5h-3.5zM1463.5 271.4h3.5v3.5h-3.5zM1459.8 280.2h3.5v3.5h-3.5z"/>
</svg>
</body></html>
